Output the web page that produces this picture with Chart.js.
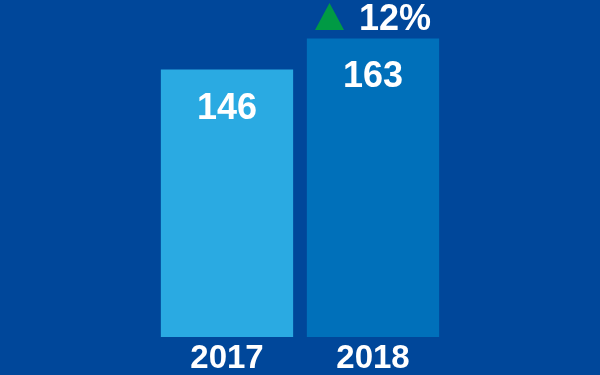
<!DOCTYPE html>
<html>
<head>
<meta charset="utf-8">
<script src="https://cdn.jsdelivr.net/npm/chart.js@4/dist/chart.umd.min.js"></script>
<style>
  html, body { margin: 0; padding: 0; background: #00479a; }
  #wrap { width: 600px; height: 375px; }
</style>
</head>
<body>
<div id="wrap"><canvas id="chart" width="600" height="375"></canvas></div>
<script>
  // Dữ liệu biểu đồ
  const years = ['2017', '2018'];
  const values = [146, 163];
  const barColors = ['#2aaae2', '#0070ba'];
  const changeLabels = ['', '12%'];

  const FONT = '"Liberation Sans", Arial, Helvetica, sans-serif';

  // Vẽ số trên cột và mũi tên tăng trưởng
  const labelPlugin = {
    id: 'labelPlugin',
    afterDatasetsDraw(chart) {
      const ctx = chart.ctx;
      const meta = chart.getDatasetMeta(0);
      ctx.save();
      meta.data.forEach((bar, i) => {
        ctx.fillStyle = '#ffffff';
        ctx.font = 'bold 36px ' + FONT;
        ctx.textAlign = 'center';
        ctx.textBaseline = 'alphabetic';
        ctx.fillText(String(values[i]), bar.x, bar.y + 49);

        if (changeLabels[i]) {
          const base = bar.y - 8.5;
          // tam giác xanh lá
          const cx = bar.x - 43.5;
          ctx.fillStyle = '#009a44';
          ctx.beginPath();
          ctx.moveTo(cx - 14.5, base);
          ctx.lineTo(cx + 14.5, base);
          ctx.lineTo(cx, base - 27);
          ctx.closePath();
          ctx.fill();

          ctx.fillStyle = '#ffffff';
          ctx.font = 'bold 36px ' + FONT;
          ctx.textAlign = 'left';
          ctx.fillText(changeLabels[i], bar.x - 14, base);
        }
      });
      ctx.restore();
    }
  };

  new Chart(document.getElementById('chart').getContext('2d'), {
    type: 'bar',
    data: {
      labels: years,
      datasets: [{
        data: values,
        backgroundColor: barColors,
        borderWidth: 0,
        barPercentage: 0.906,
        categoryPercentage: 1
      }]
    },
    options: {
      responsive: false,
      animation: false,
      layout: { padding: { left: 154, right: 154, top: 0, bottom: 0 } },
      plugins: {
        legend: { display: false },
        tooltip: { enabled: false }
      },
      scales: {
        x: {
          grid: { display: false, drawTicks: false },
          border: { display: false },
          afterFit: function (scale) { scale.height = 38; },
          ticks: {
            color: '#ffffff',
            padding: 5,
            font: { family: FONT, size: 33, weight: 'bold', lineHeight: 1 }
          }
        },
        y: {
          display: false,
          min: 0,
          max: 184
        }
      }
    },
    plugins: [labelPlugin]
  });
</script>
</body>
</html>
